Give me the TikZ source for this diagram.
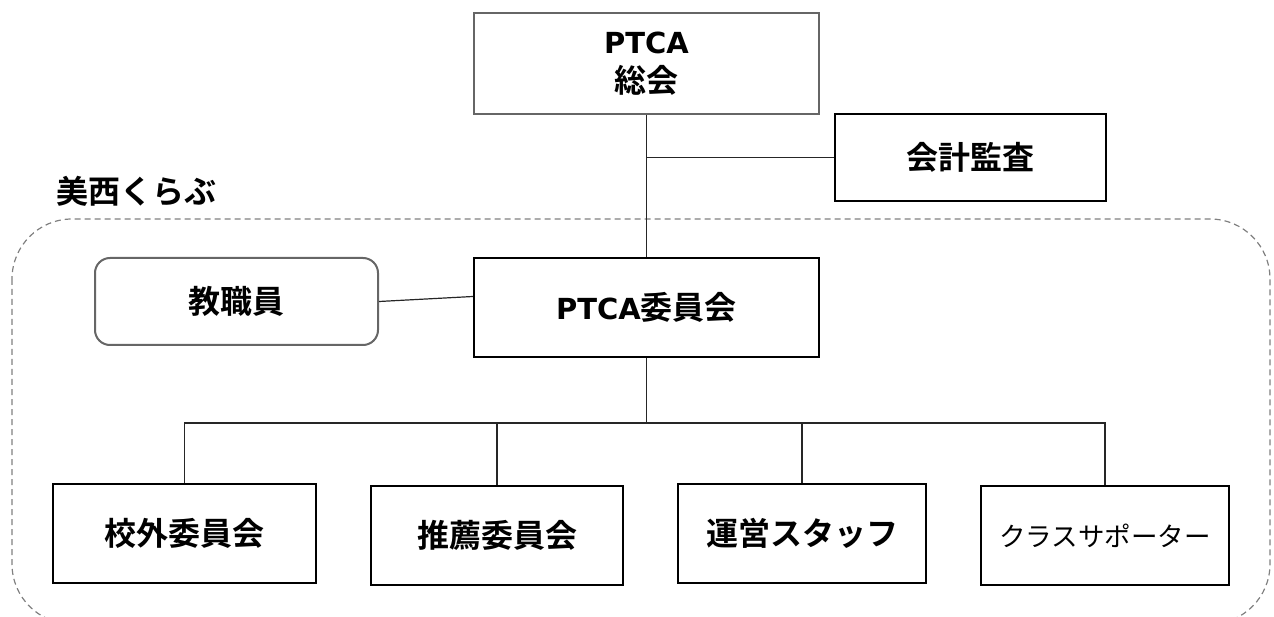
\documentclass[tikz,border=0pt]{standalone}
\usepackage{fontspec}
\setmainfont{Noto Sans CJK JP}[BoldFont={* Bold}]
\newfontfamily\latfont{DejaVu Sans}
\usetikzlibrary{calc}
\definecolor{boxgray}{HTML}{666666}
\definecolor{dashgray}{HTML}{808080}
\newcommand{\lat}[1]{{\latfont\bfseries\fontsize{29}{38}\selectfont #1}}
\tikzset{
  jptext/.style={font=\fontsize{32}{39}\selectfont\bfseries, align=center, inner sep=0pt},
  graybox/.style={draw=boxgray, line width=2pt, fill=white, jptext},
  blackbox/.style={draw=black, line width=2.4pt, fill=white, jptext},
  conn/.style={draw=black!85, line width=1.2pt},
  grouparea/.style={draw=dashgray, line width=1.2pt, dash pattern=on 6pt off 4pt, rounded corners=60pt}
}
\begin{document}
\begin{tikzpicture}[x=1pt,y=-1pt]
\useasboundingbox (0,0) rectangle (1274,617);
\path[grouparea] (12,219) rectangle (1270,624);
\node[jptext, anchor=west] (club) at (56,191) {美西くらぶ};
\node[graybox, minimum width=345pt, minimum height=101pt] (top) at (646.5,63.5) {\lat{PTCA}\\総会};
\node[blackbox, minimum width=271pt, minimum height=87pt] (kaikei) at (970.5,157.5) {会計監査};
\node[blackbox, minimum width=345pt, minimum height=99pt] (iin) at (646.5,307.5) {\lat{PTCA}委員会};
\node[graybox, rounded corners=15pt, minimum width=283pt, minimum height=87pt] (kyo) at (236.5,301.5) {教職員};
\node[blackbox, minimum width=263pt, minimum height=99pt] (b1) at (184.5,533.5) {校外委員会};
\node[blackbox, minimum width=252pt, minimum height=99pt] (b2) at (497,535.5) {推薦委員会};
\node[blackbox, minimum width=248pt, minimum height=99pt] (b3) at (802,533.5) {運営スタッフ};
\node[blackbox, minimum width=248pt, minimum height=99pt, font=\fontsize{26.5}{30}\selectfont\mdseries] (b4) at (1105,535.5) {クラスサポーター};
\coordinate (bus) at (646.5,423);
\draw[conn] (top.south) -- (iin.north);
\draw[conn] (kaikei.west) -- (kaikei.west -| top.south);
\draw[conn] (kyo.east) -- ($(iin.west)+(0,-11)$);
\draw[conn] (iin.south) -- (bus);
\draw[conn] (b1.north) |- (b4.north |- bus) -- (b4.north);
\draw[conn] (b2.north) -- (b2.north |- bus);
\draw[conn] (b3.north) -- (b3.north |- bus);
\end{tikzpicture}
\end{document}
